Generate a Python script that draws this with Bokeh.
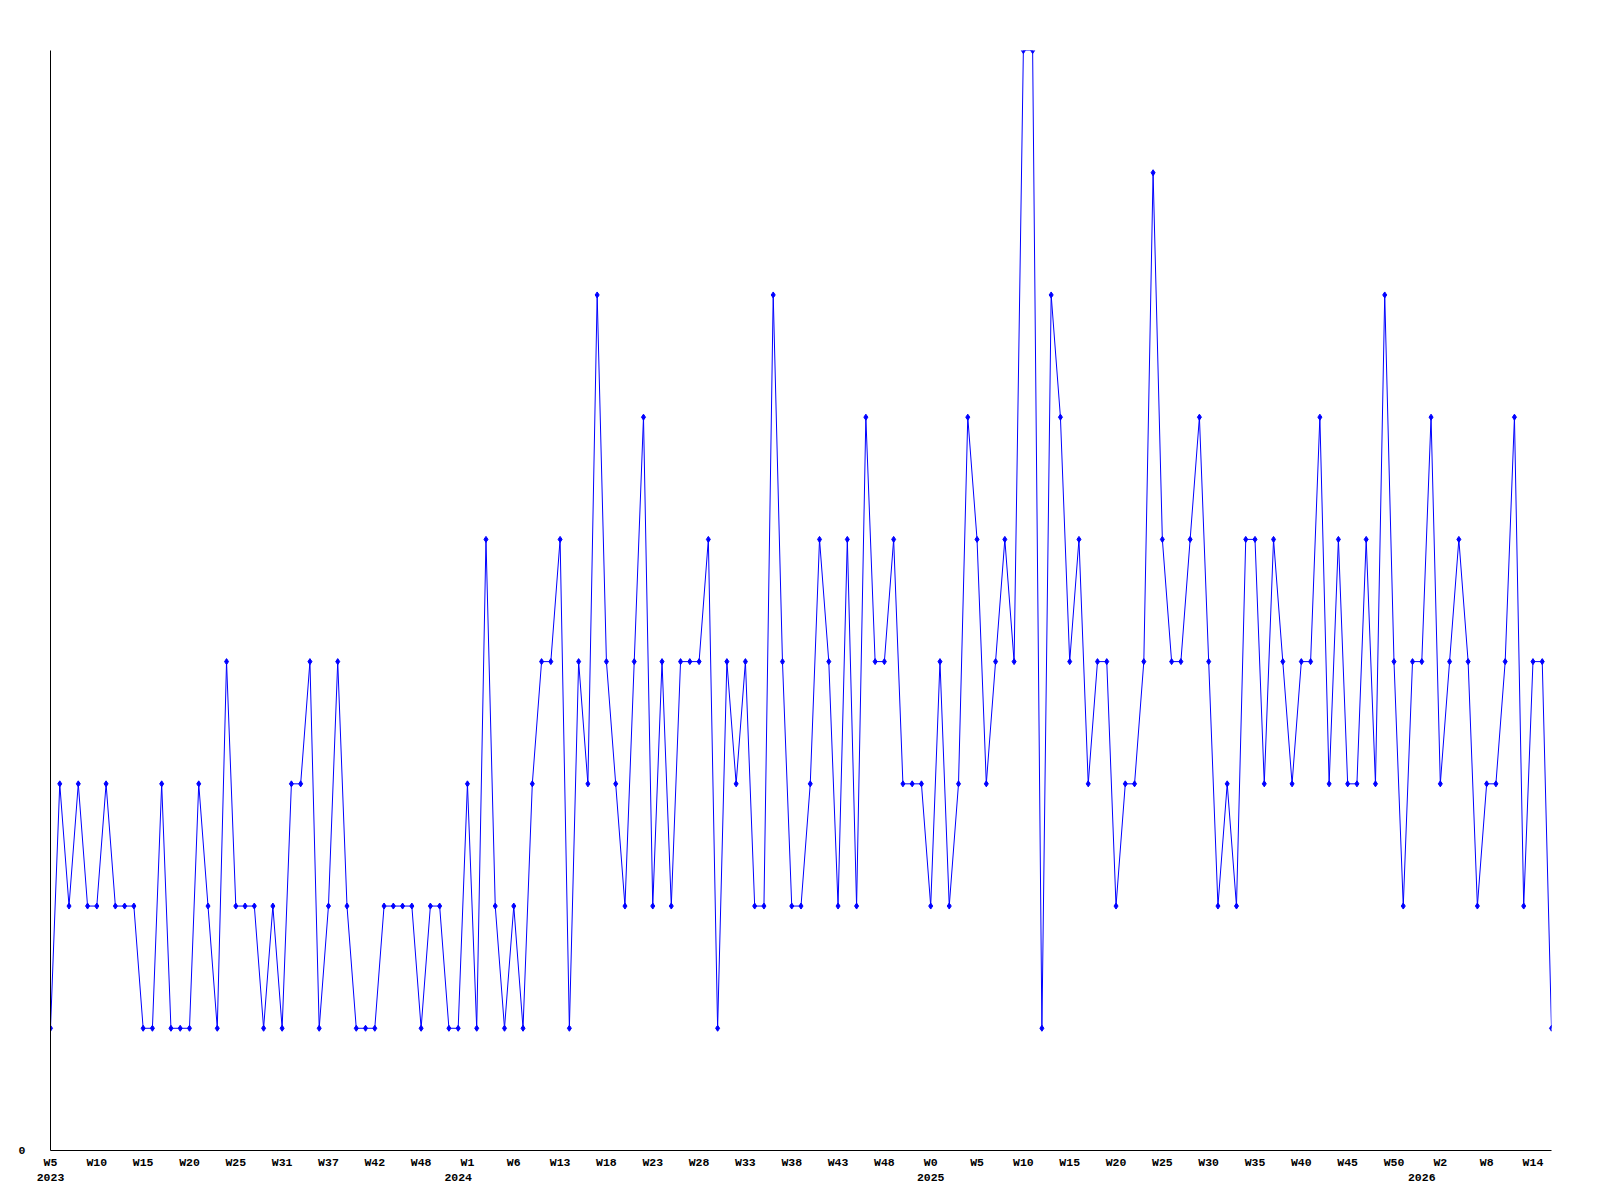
from bokeh.plotting import figure
from bokeh.models import Range1d, FixedTicker, LinearAxis
from bokeh.embed import file_html
from bokeh.resources import INLINE

# weekly counts, one per week from 2023 W5 onwards
values = [
    1, 3, 2, 3, 2, 2, 3, 2, 2, 2,
    1, 1, 3, 1, 1, 1, 3, 2, 1, 4,
    2, 2, 2, 1, 2, 1, 3, 3, 4, 1,
    2, 4, 2, 1, 1, 1, 2, 2, 2, 2,
    1, 2, 2, 1, 1, 3, 1, 5, 2, 1,
    2, 1, 3, 4, 4, 5, 1, 4, 3, 7,
    4, 3, 2, 4, 6, 2, 4, 2, 4, 4,
    4, 5, 1, 4, 3, 4, 2, 2, 7, 4,
    2, 2, 3, 5, 4, 2, 5, 2, 6, 4,
    4, 5, 3, 3, 3, 2, 4, 2, 3, 6,
    5, 3, 4, 5, 4, 9, 9, 1, 7, 6,
    4, 5, 3, 4, 4, 2, 3, 3, 4, 8,
    5, 4, 4, 5, 6, 4, 2, 3, 2, 5,
    5, 3, 5, 4, 3, 4, 4, 6, 3, 5,
    3, 3, 5, 3, 7, 4, 2, 4, 4, 6,
    3, 4, 5, 4, 2, 3, 3, 4, 6, 2,
    4, 4, 1,
]

# week tick labels (one every 5 weeks)
week_labels = [
    "W5", "W10", "W15", "W20", "W25", "W31", "W37", "W42", "W48",
    "W1", "W6", "W13", "W18", "W23", "W28", "W33", "W38", "W43", "W48",
    "W0", "W5", "W10", "W15", "W20", "W25", "W30", "W35", "W40", "W45", "W50",
    "W2", "W8", "W14",
]
# year labels and the week index where each year label sits
year_labels = ["2023", "2024", "2025", "2026"]
year_weeks = [0, 44, 95, 148]

y_max = 9
x = list(range(len(values)))
week_ticks = list(range(0, 5 * len(week_labels), 5))

FONT = "Liberation Mono"

p = figure(
    frame_width=1501, frame_height=1100,
    x_range=Range1d(0, len(values) - 1), y_range=Range1d(0, y_max),
    output_backend="svg", toolbar_location=None,
    min_border_left=50, min_border_top=50, min_border_right=40, min_border_bottom=10,
    background_fill_color="white", border_fill_color="white",
)
p.outline_line_color = None
p.xgrid.visible = False
p.ygrid.visible = False

p.line(x, values, line_color="#0000ff", line_width=1)
p.scatter(x, values, marker="diamond", size=6, color="#0000ff")

def style_axis(ax, standoff):
    ax.axis_line_color = "black"
    ax.axis_line_width = 1
    ax.major_tick_line_color = None
    ax.minor_tick_line_color = None
    ax.major_tick_out = 0
    ax.major_tick_in = 0
    ax.minor_tick_out = 0
    ax.major_label_standoff = standoff
    ax.major_label_text_font = FONT
    ax.major_label_text_font_style = "bold"
    ax.major_label_text_font_size = "11.5px"
    ax.major_label_text_color = "black"

xa = p.xaxis[0]
xa.ticker = FixedTicker(ticks=week_ticks, minor_ticks=[])
xa.major_label_overrides = {t: lab for t, lab in zip(week_ticks, week_labels)}
style_axis(xa, 5)

ya_axis = p.yaxis[0]
ya_axis.ticker = FixedTicker(ticks=[0], minor_ticks=[])
ya_axis.major_label_overrides = {0: "0"}
style_axis(ya_axis, 25)

year_axis = LinearAxis(
    ticker=FixedTicker(ticks=year_weeks, minor_ticks=[]),
    major_label_overrides={t: lab for t, lab in zip(year_weeks, year_labels)},
)
style_axis(year_axis, 2)
year_axis.axis_line_color = None
p.add_layout(year_axis, "below")

open("out.html", "w").write(file_html(p, INLINE))
